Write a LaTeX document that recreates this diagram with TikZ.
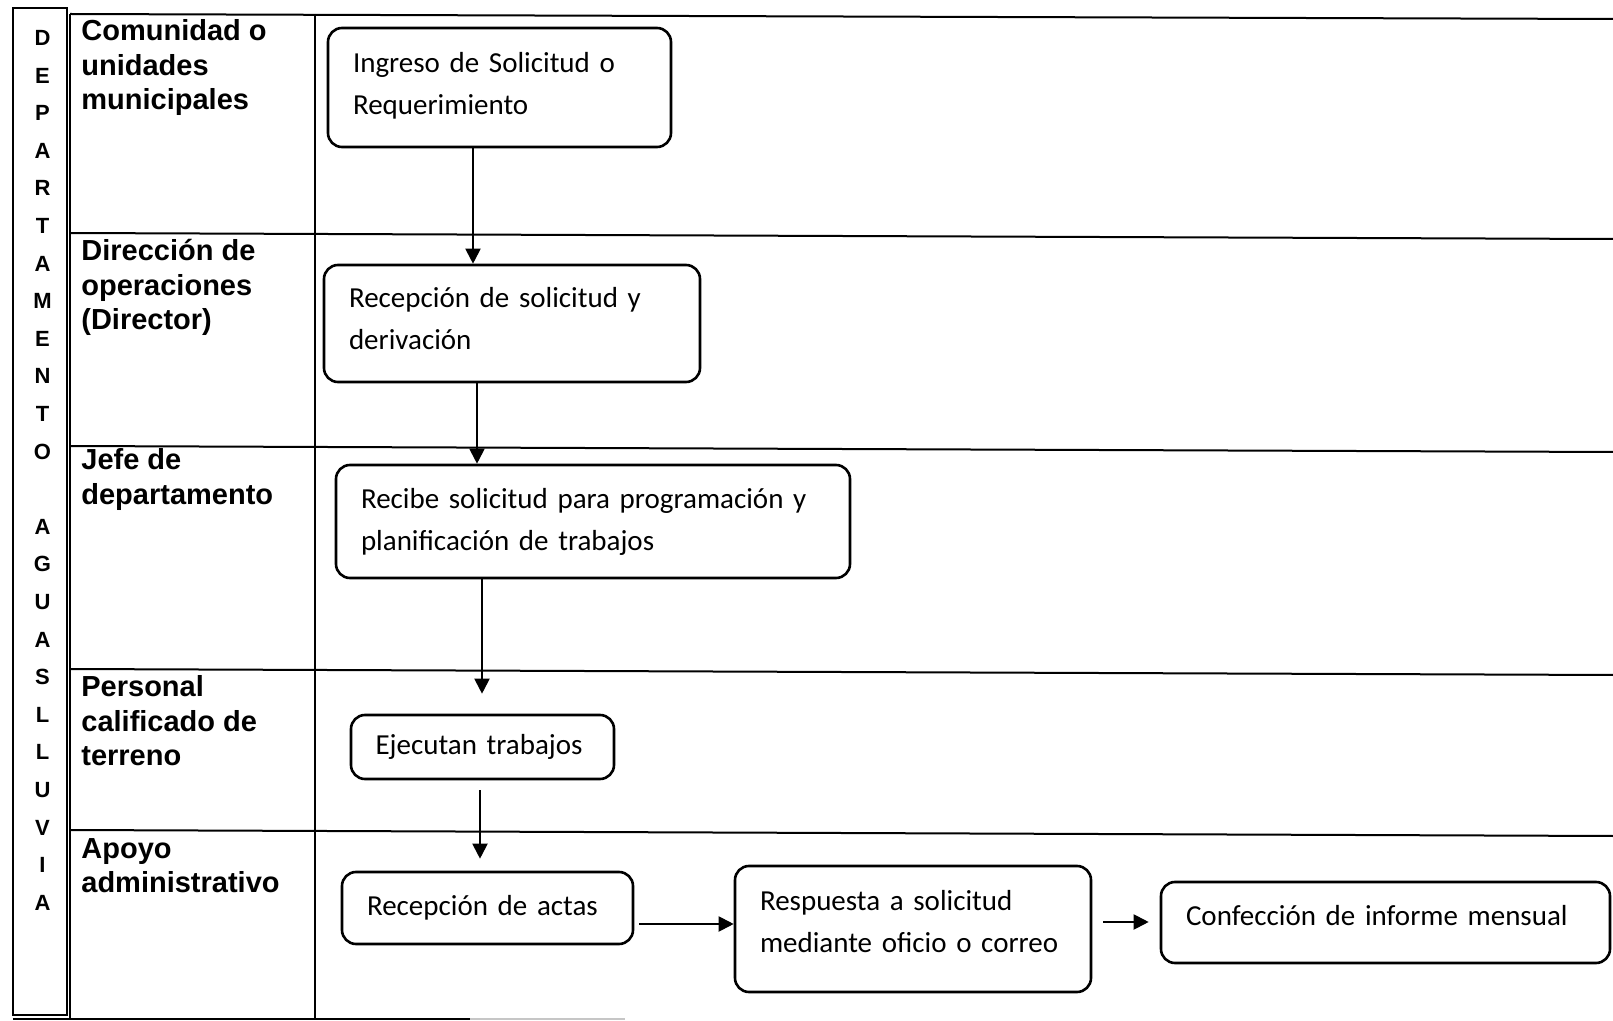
\documentclass[tikz,border=0pt]{standalone}
\usepackage{fontspec}
\setmainfont{Carlito}
\newfontfamily\arialfont{Liberation Sans}
\usetikzlibrary{arrows.meta}
\begin{document}
\begin{tikzpicture}[x=0.5pt,y=-0.5pt,
  proc/.style={draw, line width=1.3pt, rounded corners=7pt, inner xsep=12.5pt, inner ysep=0pt, align=left, font=\fontsize{14.5}{21}\selectfont},
  lane/.style={anchor=base west, inner sep=0pt, font=\arialfont\bfseries\fontsize{14.5}{17.25}\selectfont},
  arr/.style={line width=1pt, -{Triangle[length=7.5pt,width=7.5pt]}},
  rule/.style={line width=1pt}]
\useasboundingbox (0,0) rectangle (1613,1021);
\fill[white] (0,0) rectangle (1613,1021);

% left vertical box
\draw[rule] (13,8) rectangle (67,1015);
\node[anchor=base, inner sep=0pt, font=\arialfont\bfseries\fontsize{11}{18.8}\selectfont] (dept) at (42.5,45.5)
  {\begin{tabular}[t]{@{}c@{}}D\\E\\P\\A\\R\\T\\A\\M\\E\\N\\T\\O\\ \\A\\G\\U\\A\\S\\L\\L\\U\\V\\I\\A\end{tabular}};

% swimlane table
\draw[rule] (70,14) -- (70,1019);
\draw[rule] (315,14) -- (315,1019);
\draw[rule] (70,14) -- (1613,19);
\draw[rule] (70,233) -- (1613,239);
\draw[rule] (70,446) -- (1613,452);
\draw[rule] (70,669) -- (1613,675);
\draw[rule] (70,830) -- (1613,836);
\draw[rule] (13,1019) -- (470,1019);
\draw[line width=0.8pt, gray!45] (470,1019) -- (625,1019);

% lane labels
\node[lane] (l1) at (81,41) {\begin{tabular}[t]{@{}l@{}}Comunidad o\\unidades\\municipales\end{tabular}};
\node[lane] (l2) at (81,261) {\begin{tabular}[t]{@{}l@{}}Dirección de\\operaciones\\(Director)\end{tabular}};
\node[lane] (l3) at (81,470) {\begin{tabular}[t]{@{}l@{}}Jefe de\\departamento\end{tabular}};
\node[lane] (l4) at (81,697) {\begin{tabular}[t]{@{}l@{}}Personal\\calificado de\\terreno\end{tabular}};
\node[lane] (l5) at (81,858) {\begin{tabular}[t]{@{}l@{}}Apoyo\\administrativo\end{tabular}};

% process boxes
\node[proc, minimum width=171.5pt, minimum height=59.5pt, text width=146.5pt] (b1) at (499.5,87.5) {Ingreso de Solicitud o\\Requerimiento\rule[-4pt]{0pt}{1pt}};
\node[proc, minimum width=188pt, minimum height=58.5pt, text width=163pt] (b2) at (512,323.5) {Recepción de solicitud y\\derivación\rule[-4.6pt]{0pt}{1pt}};
\node[proc, minimum width=257pt, minimum height=56.5pt, text width=232pt] (b3) at (593,521.5) {Recibe solicitud para programación y\\planificación de trabajos};
\node[proc, minimum width=131.5pt, minimum height=32pt, text width=107pt, inner xsep=12.25pt] (b4) at (482.5,747) {Ejecutan trabajos};
\node[proc, minimum width=145.5pt, minimum height=36pt, text width=120.5pt] (b5) at (487.5,908) {Recepción de actas};
\node[proc, minimum width=178pt, minimum height=63pt, text width=153pt] (b6) at (913,929) {Respuesta a solicitud\\mediante oficio o correo\rule[-7.2pt]{0pt}{1pt}};
\node[proc, minimum width=224.5pt, minimum height=40.5pt, text width=199.5pt] (b7) at (1385.5,922.5) {Confección de informe mensual\rule[-7.2pt]{0pt}{1pt}};

% connector guides
\coordinate (xa1) at (473,0);
\coordinate (xa2) at (477,0);
\coordinate (xa3) at (482,0);
\coordinate (xa4) at (480,0);
\coordinate (ya5) at (0,924);
\coordinate (ya6) at (0,922);

% connectors
\draw[arr] (b1.south -| xa1) -- (b2.north -| xa1);
\draw[arr] (b2.south -| xa2) -- (b3.north -| xa2);
\draw[arr, shorten >=10pt] (b3.south -| xa3) -- (b4.north -| xa3);
\draw[arr, shorten <=5pt, shorten >=6pt] (b4.south -| xa4) -- (b5.north -| xa4);
\draw[arr, shorten <=2.5pt] (b5.east |- ya5) -- (b6.west |- ya5);
\draw[arr, shorten <=5.5pt, shorten >=5.5pt] (b6.east |- ya6) -- (b7.west |- ya6);
\end{tikzpicture}
\end{document}
